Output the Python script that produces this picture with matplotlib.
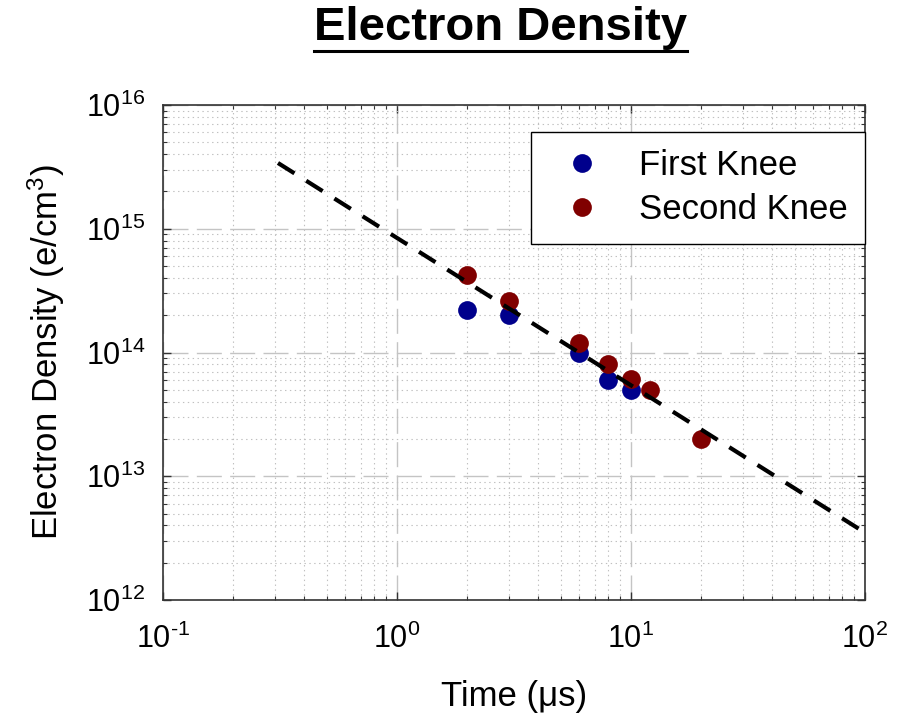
import matplotlib
matplotlib.use("Agg")
import matplotlib.pyplot as plt
from matplotlib.ticker import FixedLocator, FixedFormatter, LogLocator, NullFormatter
from matplotlib.lines import Line2D

plt.rcParams['font.family'] = ['Liberation Sans', 'DejaVu Sans']
plt.rcParams['mathtext.fontset'] = 'custom'
plt.rcParams['mathtext.rm'] = 'Liberation Sans'
plt.rcParams['mathtext.it'] = 'Liberation Sans'
plt.rcParams['mathtext.default'] = 'regular'
plt.rcParams['lines.scale_dashes'] = False

# ---- data ----
first_x = [2, 3, 6, 8, 10]
first_y = [2.2e14, 2.0e14, 1.0e14, 6.0e13, 5.0e13]

second_x = [2, 3, 6, 8, 10, 12, 20]
second_y = [4.2e14, 2.6e14, 1.2e14, 8.1e13, 6.1e13, 5.0e13, 2.0e13]

fit_x = [0.31, 100]
fit_y = [3.4e15, 3.5e12]

x_ticks = [0.1, 1, 10, 100]
x_tick_labels = ['10$^{\u20101}$', '10$^{0}$', '10$^{1}$', '10$^{2}$']
y_ticks = [1e12, 1e13, 1e14, 1e15, 1e16]
y_tick_labels = ['10$^{12}$', '10$^{13}$', '10$^{14}$', '10$^{15}$', '10$^{16}$']

series_names = ['First Knee', 'Second Knee']
title = 'Electron Density'
xlabel = 'Time (μs)'
ylabel = 'Electron Density (e/cm$^{3}$)'

# ---- figure ----
fig = plt.figure(figsize=(9.04, 7.18), dpi=100)
ax = fig.add_axes([163/904, 1-600/718, (865-163)/904, (600-105)/718])
ax.set_xscale('log')
ax.set_yscale('log')
ax.set_xlim(0.1, 100)
ax.set_ylim(1e12, 1e16)

blue = '#00008c'
red = '#800000'
ax.plot(first_x, first_y, linestyle='none', marker='o', markersize=13.5,
        color=blue, markeredgewidth=0, label=series_names[0], zorder=3)
ax.plot(second_x, second_y, linestyle='none', marker='o', markersize=13.5,
        color=red, markeredgewidth=0, label=series_names[1], zorder=3)
fl, = ax.plot(fit_x, fit_y, color='black', linewidth=3.0, zorder=4)
fl.set_dashes([14, 10])

# ticks
ax.xaxis.set_major_locator(FixedLocator(x_ticks))
ax.xaxis.set_major_formatter(FixedFormatter(x_tick_labels))
ax.yaxis.set_major_locator(FixedLocator(y_ticks))
ax.yaxis.set_major_formatter(FixedFormatter(y_tick_labels))
ax.xaxis.set_minor_locator(LogLocator(base=10, subs=range(2, 10), numticks=20))
ax.yaxis.set_minor_locator(LogLocator(base=10, subs=range(2, 10), numticks=20))
ax.xaxis.set_minor_formatter(NullFormatter())
ax.yaxis.set_minor_formatter(NullFormatter())
ax.tick_params(which='both', direction='in', top=True, right=True, colors='#333333')
ax.tick_params(which='major', length=6, width=1.0, labelsize=22, labelcolor='black')
ax.tick_params(which='minor', length=3, width=0.8)
ax.tick_params(axis='x', which='major', pad=17)
ax.tick_params(axis='y', which='major', pad=13)

for s in ax.spines.values():
    s.set_color('#333333')
    s.set_linewidth(1.2)

ax.set_axisbelow(True)
ax.grid(which='major', color='#c4c4c4', linestyle=(0, (18, 6)), linewidth=1.0)
ax.grid(which='minor', color='#c0c0c0', linestyle=(0, (1, 2.5)), linewidth=0.8)

ax.set_xlabel(xlabel, fontsize=25)
ax.set_ylabel(ylabel, fontsize=25)
ax.xaxis.set_label_coords(0.5, -0.162)
ax.yaxis.set_label_coords(-0.137, 0.5)

leg = ax.legend(loc='upper right', bbox_to_anchor=(1.0, 1 - (132-105)/495),
                borderaxespad=0, fontsize=25, frameon=True, fancybox=False,
                edgecolor='black', framealpha=1, borderpad=0.5,
                handlelength=1.9, handletextpad=0.7, labelspacing=0.32,
                numpoints=1)
leg.get_frame().set_linewidth(1.0)

t = fig.text(501/904, 1-40/718, title, fontsize=34, fontweight='bold',
             ha='center', va='baseline')
fig.canvas.draw()
bb = t.get_window_extent()
fig.add_artist(Line2D([bb.x0/904, bb.x1/904], [1-51/718, 1-51/718],
                      color='black', linewidth=2.2, transform=fig.transFigure))

fig.savefig('out.png', dpi=100)
